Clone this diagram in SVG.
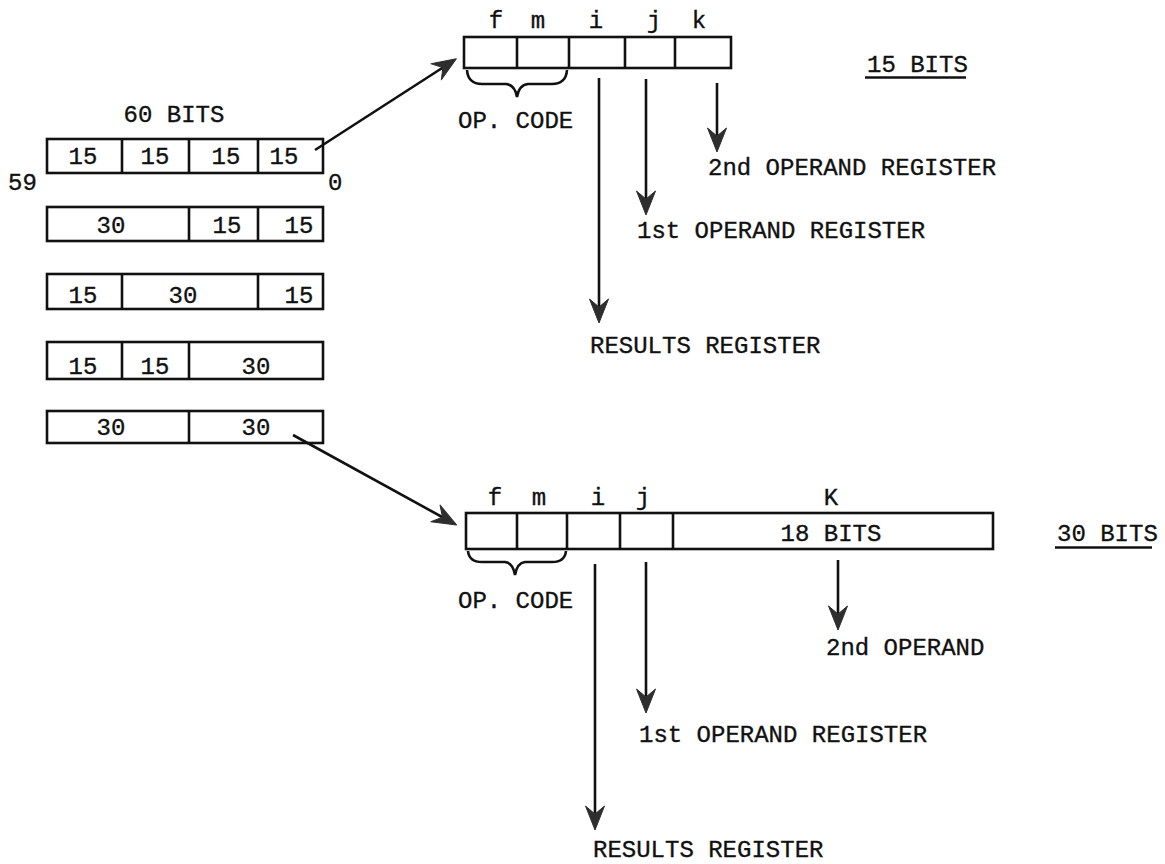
<svg xmlns="http://www.w3.org/2000/svg" width="1165" height="864" viewBox="0 0 1165 864">
<style>
text{font-family:"Liberation Mono","DejaVu Sans Mono",monospace;font-size:24px;fill:#111;stroke:#111;stroke-width:0.35}
.c{text-anchor:middle}
.box{fill:#fff;stroke:#111;stroke-width:2.6}
.div{stroke:#111;stroke-width:2.6;fill:none}
.ln{stroke:#111;stroke-width:2.6;fill:none}
.arr{stroke:#111;stroke-width:2.6;fill:none;marker-end:url(#ah)}
</style>
<defs>
<marker id="ah" markerUnits="userSpaceOnUse" viewBox="-26 -11 28 22" markerWidth="28" markerHeight="22" refX="-4" refY="0" orient="auto">
<path d="M0,0 L-24,-9.5 L-16,0 L-24,9.5 Z" fill="#2e2e2e" stroke="#2e2e2e" stroke-width="1" stroke-linejoin="round"/>
</marker>
</defs>
<rect width="1165" height="864" fill="#fff"/>

<g id="word-label">
<text class="c" x="174" y="122">60 BITS</text>
<text x="8" y="190">59</text>
<text x="328" y="190">0</text>
</g>

<g id="word-row1">
<rect class="box" x="47" y="139" width="276" height="34"/>
<path class="div" d="M122,139V173M189,139V173M258,139V173"/>
<text class="c" x="83" y="164">15</text>
<text class="c" x="155" y="164">15</text>
<text class="c" x="226" y="164">15</text>
<text class="c" x="284" y="164">15</text>
</g>
<g id="word-row2">
<rect class="box" x="47" y="207" width="276" height="34"/>
<path class="div" d="M189,207V241M258,207V241"/>
<text class="c" x="111" y="233">30</text>
<text class="c" x="227" y="233">15</text>
<text class="c" x="299" y="233">15</text>
</g>
<g id="word-row3">
<rect class="box" x="47" y="274" width="276" height="35"/>
<path class="div" d="M122,274V309M258,274V309"/>
<text class="c" x="83" y="303">15</text>
<text class="c" x="183" y="303">30</text>
<text class="c" x="299" y="303">15</text>
</g>
<g id="word-row4">
<rect class="box" x="47" y="342" width="276" height="37"/>
<path class="div" d="M122,342V379M189,342V379"/>
<text class="c" x="83" y="374">15</text>
<text class="c" x="155" y="374">15</text>
<text class="c" x="256" y="374">30</text>
</g>
<g id="word-row5">
<rect class="box" x="47" y="411" width="276" height="32"/>
<path class="div" d="M189,411V443"/>
<text class="c" x="111" y="435">30</text>
<text class="c" x="256" y="435">30</text>
</g>

<g id="instr15">
<text class="c" x="496" y="28">f</text>
<text class="c" x="538" y="28">m</text>
<text class="c" x="596" y="28">i</text>
<text class="c" x="654" y="28">j</text>
<text class="c" x="699" y="28">k</text>
<rect class="box" x="464" y="37" width="267" height="31"/>
<path class="div" d="M517,37V68M569,37V68M625,37V68M675,37V68"/>
<path class="ln" d="M467,70 Q468,84 482,84 L506,84 Q515,85 517,97 Q519,85 528,84 L552,84 Q566,84 567,70"/>
<text x="458" y="128">OP. CODE</text>
<text x="867" y="72">15 BITS</text>
<path class="ln" d="M865,77.5H966" stroke-width="2"/>
</g>

<g id="instr15-targets">
<text x="708" y="175">2nd OPERAND REGISTER</text>
<text x="637" y="238">1st OPERAND REGISTER</text>
<text x="590" y="353">RESULTS REGISTER</text>
</g>

<g id="instr30">
<text class="c" x="495" y="505">f</text>
<text class="c" x="539" y="505">m</text>
<text class="c" x="598" y="505">i</text>
<text class="c" x="643" y="505">j</text>
<text class="c" x="831" y="505">K</text>
<rect class="box" x="466" y="513" width="527" height="36"/>
<path class="div" d="M517,513V549M567,513V549M620,513V549M673,513V549"/>
<text class="c" x="831" y="541">18 BITS</text>
<path class="ln" d="M468,551 Q469,562 482,562 L505,562 Q513,563 515,575 Q517,563 525,562 L552,562 Q565,562 566,551"/>
<text x="458" y="608">OP. CODE</text>
<text x="1057" y="541">30 BITS</text>
<path class="ln" d="M1055,547.5H1152" stroke-width="2"/>
</g>

<g id="instr30-targets">
<text x="826" y="655">2nd OPERAND</text>
<text x="639" y="742">1st OPERAND REGISTER</text>
<text x="593" y="857">RESULTS REGISTER</text>
</g>

<g id="connectors">
<path class="arr" d="M315,150 L453,61"/>
<path class="arr" d="M293,435 L453,523"/>
<path class="arr" d="M599,78 V319"/>
<path class="arr" d="M646,79 V211"/>
<path class="arr" d="M717,83 V148"/>
<path class="arr" d="M595,564 V826"/>
<path class="arr" d="M646,562 V709"/>
<path class="arr" d="M838,560 V626"/>
</g>
</svg>
